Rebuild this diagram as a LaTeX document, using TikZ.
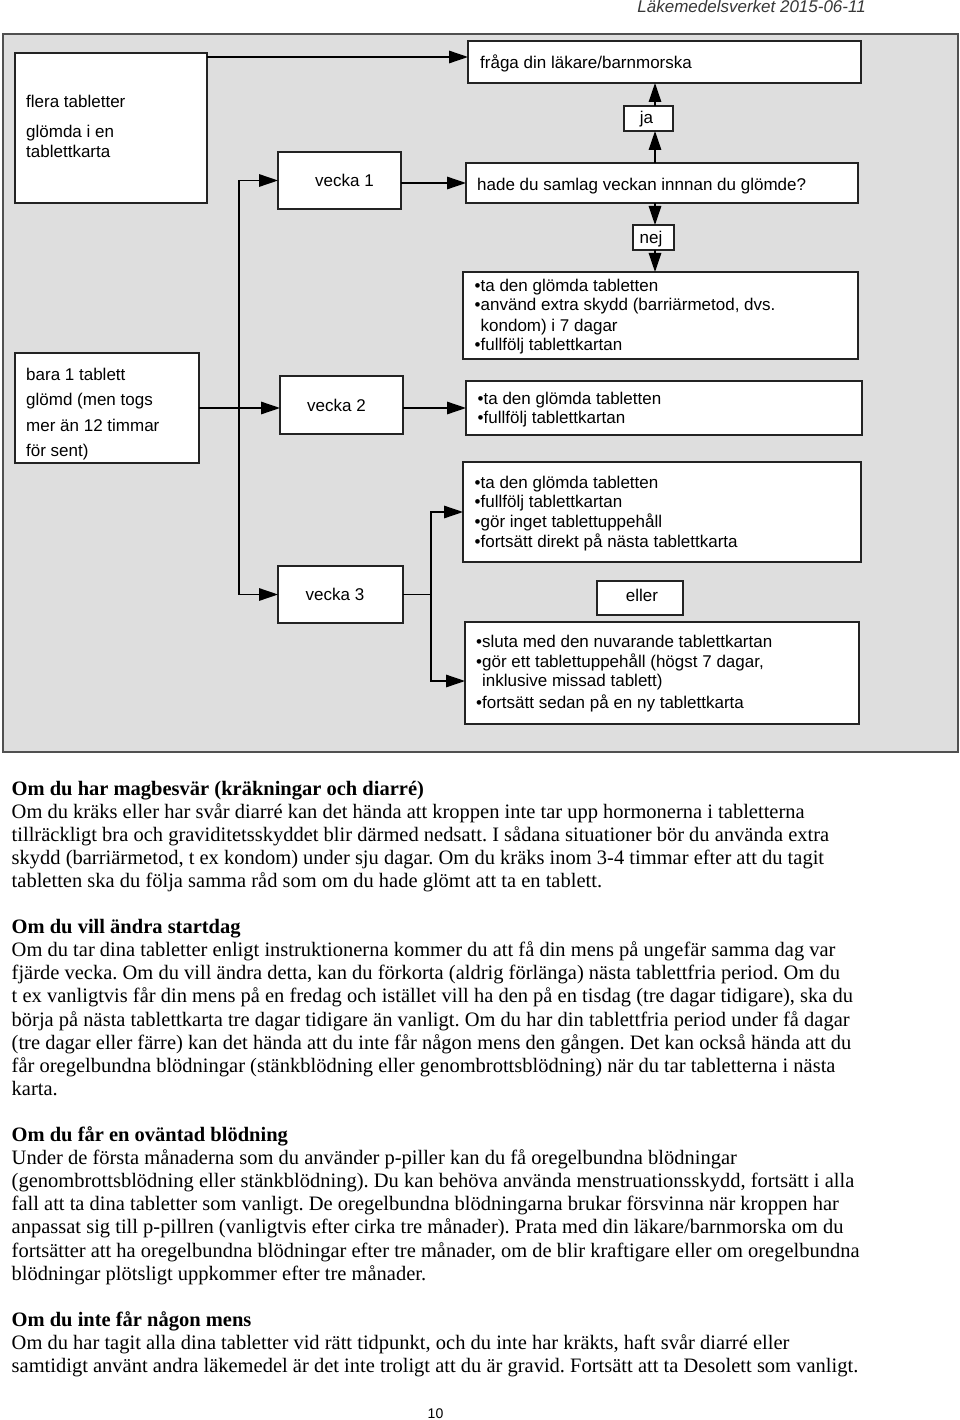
\documentclass[tikz,border=0pt]{standalone}
\usepackage{fontspec}
\setmainfont{Liberation Serif}
\newfontfamily\arialf{Liberation Sans}
\usetikzlibrary{arrows.meta,calc}
\definecolor{panelgray}{RGB}{222,222,222}
\definecolor{panelborder}{RGB}{80,80,80}
\definecolor{boxborder}{RGB}{35,35,35}
\definecolor{hdrgray}{RGB}{55,55,55}
\newcommand{\bline}[3]{\node[#2] (b#1) at (11.5,{795+23.1*#1}) {#3};}
\frenchspacing
\begin{document}
\begin{tikzpicture}[x=1pt,y=-1pt,
  panel/.style={draw=panelborder, fill=panelgray, line width=1.5pt, anchor=north west, inner sep=0pt, outer sep=0pt},
  box/.style={draw=boxborder, fill=white, line width=1.7pt, anchor=north west, inner sep=0pt, outer sep=0pt},
  st/.style={anchor=base west, inner sep=0pt, font=\arialf\fontsize{17}{20}\selectfont},
  sc/.style={anchor=base, inner sep=0pt, font=\arialf\fontsize{17}{20}\selectfont},
  bt/.style={anchor=base west, inner sep=0pt, font=\frenchspacing\fontsize{20.5}{23}\selectfont},
  bh/.style={anchor=base west, inner sep=0pt, font=\frenchspacing\bfseries\fontsize{20.5}{23}\selectfont},
  conn/.style={line width=1.4pt, draw=black, line join=miter},
  arr/.style={conn, -{Triangle[length=19pt,width=12.5pt]}}
]
\fill[white] (0,0) rectangle (960,1420);
\useasboundingbox (0,0) rectangle (960,1420);

% header
\node[anchor=base east, inner sep=0pt, text=hdrgray, font=\arialf\itshape\fontsize{17}{20}\selectfont] (hdr) at (866,13) {Läkemedelsverket 2015-06-11};

% panel
\node[panel, minimum width=955pt, minimum height=718pt] (panel) at (3,34) {};

% boxes
\node[box, minimum width=192pt, minimum height=150pt] (flera) at (15,53) {};
\node[box, minimum width=393pt, minimum height=42pt] (fraga) at (468,41) {};
\node[box, minimum width=49pt, minimum height=25pt] (ja) at (624,106) {};
\node[box, minimum width=392pt, minimum height=40pt] (hade) at (466,163) {};
\node[box, minimum width=123pt, minimum height=57pt] (vecka1) at (278,152) {};
\node[box, minimum width=41pt, minimum height=25pt] (nej) at (633,225) {};
\node[box, minimum width=395pt, minimum height=87pt] (boxA) at (463,272) {};
\node[box, minimum width=184pt, minimum height=110pt] (bara) at (15,353) {};
\node[box, minimum width=123pt, minimum height=58pt] (vecka2) at (280,376) {};
\node[box, minimum width=396pt, minimum height=54pt] (boxB) at (466,381) {};
\node[box, minimum width=398pt, minimum height=100pt] (boxC) at (463,462) {};
\node[box, minimum width=125pt, minimum height=57pt] (vecka3) at (278,566) {};
\node[box, minimum width=86pt, minimum height=34pt] (eller) at (597,581) {};
\node[box, minimum width=394pt, minimum height=102pt] (boxD) at (465,622) {};

% box texts
\node[st] (t-flera1) at (26,108) {flera tabletter};
\node[st] (t-flera2) at (26,138) {glömda i en};
\node[st] (t-flera3) at (26,158) {tablettkarta};
\node[st] (t-fraga) at (480,68.5) {fråga din läkare/barnmorska};
\node[sc] (t-ja) at (646.5,123.5) {ja};
\node[sc] (t-v1) at (344.5,186.5) {vecka 1};
\node[st] (t-hade) at (477,190.5) {hade du samlag veckan innnan du glömde?};
\node[sc] (t-nej) at (651,243.5) {nej};
\node[st] (t-a1) at (474.5,291.5) {•ta den glömda tabletten};
\node[st] (t-a2) at (474.5,311) {•använd extra skydd (barriärmetod, dvs.};
\node[st] (t-a3) at (474.5,331) {\phantom{•}kondom) i 7 dagar};
\node[st] (t-a4) at (474.5,350.5) {•fullfölj tablettkartan};
\node[st] (t-bara1) at (26,380) {bara 1 tablett};
\node[st] (t-bara2) at (26,405.5) {glömd (men togs};
\node[st] (t-bara3) at (26,431) {mer än 12 timmar};
\node[st] (t-bara4) at (26,456) {för sent)};
\node[sc] (t-v2) at (336.5,411) {vecka 2};
\node[st] (t-b1) at (477.5,404.3) {•ta den glömda tabletten};
\node[st] (t-b2) at (477.5,423.5) {•fullfölj tablettkartan};
\node[st] (t-c1) at (474.5,488.3) {•ta den glömda tabletten};
\node[st] (t-c2) at (474.5,507.8) {•fullfölj tablettkartan};
\node[st] (t-c3) at (474.5,527.4) {•gör inget tablettuppehåll};
\node[st] (t-c4) at (474.5,547) {•fortsätt direkt på nästa tablettkarta};
\node[sc] (t-v3) at (335,600) {vecka 3};
\node[sc] (t-eller) at (642,601.5) {eller};
\node[st] (t-d1) at (476,647.3) {•sluta med den nuvarande tablettkartan};
\node[st] (t-d2) at (476,667.2) {•gör ett tablettuppehåll (högst 7 dagar,};
\node[st] (t-d3) at (476,686.7) {\phantom{•}inklusive missad tablett)};
\node[st] (t-d4) at (476,708.3) {•fortsätt sedan på en ny tablettkarta};

% connector helper coordinates
\coordinate (vx) at (655,0);
\coordinate (trunk) at (239,0);
\coordinate (br) at (431,0);
\coordinate (fa) at ([yshift=-4pt]flera.north east);
\coordinate (dD) at ([yshift=-8pt]boxD.west);

% connectors
\draw[arr] (fa) -- (fa -| fraga.west);
\draw[arr] (vecka1.east |- hade.west) -- (hade.west);
\draw[arr] (hade.north -| vx) -- (ja.south -| vx);
\draw[arr] (ja.north -| vx) -- (fraga.south -| vx);
\draw[arr] (hade.south -| vx) -- (nej.north -| vx);
\draw[arr] (nej.south -| vx) -- (boxA.north -| vx);
\draw[arr] (vecka3.west -| trunk) |- (vecka1.west);
\draw[arr] (vecka1.west -| trunk) |- (vecka3.west);
\draw[arr] (bara.east) -- (bara.east -| vecka2.west);
\draw[arr] (vecka2.east |- boxB.west) -- (boxB.west);
\draw[conn] (vecka3.east) -- (vecka3.east -| br);
\draw[arr] (dD -| br) |- (boxC.west);
\draw[arr] (boxC.west -| br) |- (dD);

% body text
\bline{0}{bh}{Om du har magbesvär (kräkningar och diarré)}
\bline{1}{bt}{Om du kräks eller har svår diarré kan det hända att kroppen inte tar upp hormonerna i tabletterna}
\bline{2}{bt}{tillräckligt bra och graviditetsskyddet blir därmed nedsatt. I sådana situationer bör du använda extra}
\bline{3}{bt}{skydd (barriärmetod, t ex kondom) under sju dagar. Om du kräks inom 3-4 timmar efter att du tagit}
\bline{4}{bt}{tabletten ska du följa samma råd som om du hade glömt att ta en tablett.}
\bline{6}{bh}{Om du vill ändra startdag}
\bline{7}{bt}{Om du tar dina tabletter enligt instruktionerna kommer du att få din mens på ungefär samma dag var}
\bline{8}{bt}{fjärde vecka. Om du vill ändra detta, kan du förkorta (aldrig förlänga) nästa tablettfria period. Om du}
\bline{9}{bt}{t ex vanligtvis får din mens på en fredag och istället vill ha den på en tisdag (tre dagar tidigare), ska du}
\bline{10}{bt}{börja på nästa tablettkarta tre dagar tidigare än vanligt. Om du har din tablettfria period under få dagar}
\bline{11}{bt}{(tre dagar eller färre) kan det hända att du inte får någon mens den gången. Det kan också hända att du}
\bline{12}{bt}{får oregelbundna blödningar (stänkblödning eller genombrottsblödning) när du tar tabletterna i nästa}
\bline{13}{bt}{karta.}
\bline{15}{bh}{Om du får en oväntad blödning}
\bline{16}{bt}{Under de första månaderna som du använder p-piller kan du få oregelbundna blödningar}
\bline{17}{bt}{(genombrottsblödning eller stänkblödning). Du kan behöva använda menstruationsskydd, fortsätt i alla}
\bline{18}{bt}{fall att ta dina tabletter som vanligt. De oregelbundna blödningarna brukar försvinna när kroppen har}
\bline{19}{bt}{anpassat sig till p-pillren (vanligtvis efter cirka tre månader). Prata med din läkare/barnmorska om du}
\bline{20}{bt}{fortsätter att ha oregelbundna blödningar efter tre månader, om de blir kraftigare eller om oregelbundna}
\bline{21}{bt}{blödningar plötsligt uppkommer efter tre månader.}
\bline{23}{bh}{Om du inte får någon mens}
\bline{24}{bt}{Om du har tagit alla dina tabletter vid rätt tidpunkt, och du inte har kräkts, haft svår diarré eller}
\bline{25}{bt}{samtidigt använt andra läkemedel är det inte troligt att du är gravid. Fortsätt att ta Desolett som vanligt.}

% page number
\node[anchor=base, inner sep=0pt, font=\arialf\fontsize{14}{16}\selectfont] (pg) at (435.5,1418) {10};
\end{tikzpicture}
\end{document}
